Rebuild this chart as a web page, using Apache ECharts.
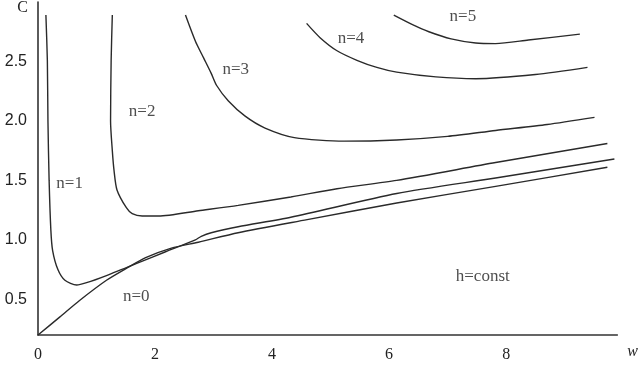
<!DOCTYPE html>
<html><head><meta charset="utf-8">
<script src="https://cdn.jsdelivr.net/npm/echarts@6/dist/echarts.min.js"></script>
<style>html,body{margin:0;padding:0;background:#fff}#c{width:641px;height:368px}</style>
</head><body><div id="c"></div>
<script>
// x tick labels / y tick labels
const xTicks = [0, 2, 4, 6, 8];
const yTicks = [0.5, 1.0, 1.5, 2.0, 2.5];

// curves: w values and C values
const w_n0 = [0, 0.37, 0.71, 1.17, 1.51, 1.84, 2.28, 2.74, 3.42, 4.60, 6.13, 7.82, 9.73];
const c_n0 = [0.20, 0.35, 0.49, 0.66, 0.76, 0.85, 0.93, 0.98, 1.06, 1.17, 1.31, 1.45, 1.61];

const w_n1 = [0.135, 0.16, 0.17, 0.19, 0.22, 0.25, 0.34, 0.46, 0.66, 0.83, 1.17, 1.73, 2.18, 2.69, 2.79, 2.96, 3.42, 4.32, 6.13, 7.82, 9.85];
const c_n1 = [2.89, 2.505, 2.00, 1.50, 1.08, 0.91, 0.75, 0.66, 0.62, 0.64, 0.70, 0.81, 0.90, 1.00, 1.03, 1.06, 1.11, 1.19, 1.39, 1.52, 1.68];

const w_n2 = [1.27, 1.25, 1.24, 1.27, 1.30, 1.35, 1.51, 1.61, 1.78, 2.06, 2.74, 3.42, 4.32, 5.11, 6.13, 7.82, 9.73];
const c_n2 = [2.89, 2.51, 2.00, 1.75, 1.58, 1.42, 1.27, 1.22, 1.20, 1.20, 1.245, 1.29, 1.36, 1.43, 1.50, 1.65, 1.81];

const w_n3 = [2.52, 2.69, 2.83, 2.96, 3.05, 3.25, 3.54, 3.88, 4.38, 5.23, 6.13, 7.00, 7.82, 8.70, 9.51];
const c_n3 = [2.89, 2.67, 2.53, 2.40, 2.30, 2.17, 2.04, 1.94, 1.86, 1.83, 1.84, 1.87, 1.92, 1.97, 2.03];

const w_n4 = [4.59, 4.82, 5.11, 5.45, 5.79, 6.13, 6.80, 7.48, 8.50, 9.39];
const c_n4 = [2.82, 2.70, 2.59, 2.51, 2.45, 2.41, 2.37, 2.355, 2.39, 2.45];

const w_n5 = [6.08, 6.40, 6.68, 7.06, 7.48, 7.82, 8.38, 9.26];
const c_n5 = [2.89, 2.81, 2.75, 2.69, 2.655, 2.65, 2.68, 2.73];

// curve annotations (text and anchor in data units)
const noteText = ['n=0', 'n=1', 'n=2', 'n=3', 'n=4', 'n=5', 'h=const'];
const noteW = [1.68, 0.54, 1.78, 3.38, 5.35, 7.26, 7.60];
const noteC = [0.52, 1.47, 2.08, 2.43, 2.69, 2.88, 0.69];

const curves = [[w_n0, c_n0], [w_n1, c_n1], [w_n2, c_n2], [w_n3, c_n3], [w_n4, c_n4], [w_n5, c_n5]];
const zip = (a, b) => a.map((v, i) => [v, b[i]]);

const series = curves.map((c, i) => ({
  type: 'line', name: 'n=' + i, data: zip(c[0], c[1]),
  smooth: 0.25, symbol: 'none',
  lineStyle: { color: '#2a2a2a', width: 1.4 }, silent: true
}));
series.push({
  type: 'scatter', symbolSize: 0, silent: true,
  data: noteText.map((t, i) => ({ name: t, value: [noteW[i], noteC[i]] })),
  label: { show: true, position: 'inside', formatter: p => p.name,
    fontFamily: 'Liberation Serif', fontSize: 17, color: '#222' }
});

const chart = echarts.init(document.getElementById('c'));
chart.setOption({
  animation: false,
  backgroundColor: '#fff',
  grid: { left: 38, right: 18, top: 1, bottom: 33 },
  xAxis: {
    type: 'value', min: 0, max: 9.9,
    name: 'w', nameLocation: 'end', nameGap: 10,
    nameTextStyle: { fontFamily: 'Liberation Serif', fontStyle: 'italic', fontSize: 16, color: '#222', align: 'left', verticalAlign: 'top', padding: [9, 0, 0, 0] },
    axisLine: { lineStyle: { color: '#333', width: 1.6 } },
    axisTick: { show: false },
    splitLine: { show: false },
    axisLabel: { customValues: xTicks, formatter: v => String(v), margin: 12,
      fontFamily: 'Liberation Serif', fontSize: 16, color: '#222' }
  },
  yAxis: {
    type: 'value', min: 0.2, max: 3.0,
    name: 'C', nameLocation: 'end', nameGap: -6,
    nameTextStyle: { fontFamily: 'Liberation Serif', fontSize: 16, color: '#222', align: 'right', verticalAlign: 'middle', padding: [0, 10, 0, 0] },
    axisLine: { show: true, lineStyle: { color: '#333', width: 1.6 } },
    axisTick: { show: false },
    splitLine: { show: false },
    axisLabel: { customValues: yTicks, formatter: v => v.toFixed(1), margin: 11,
      fontFamily: 'Liberation Sans', fontSize: 16, color: '#222' }
  },
  series: series
});
</script>
</body></html>
